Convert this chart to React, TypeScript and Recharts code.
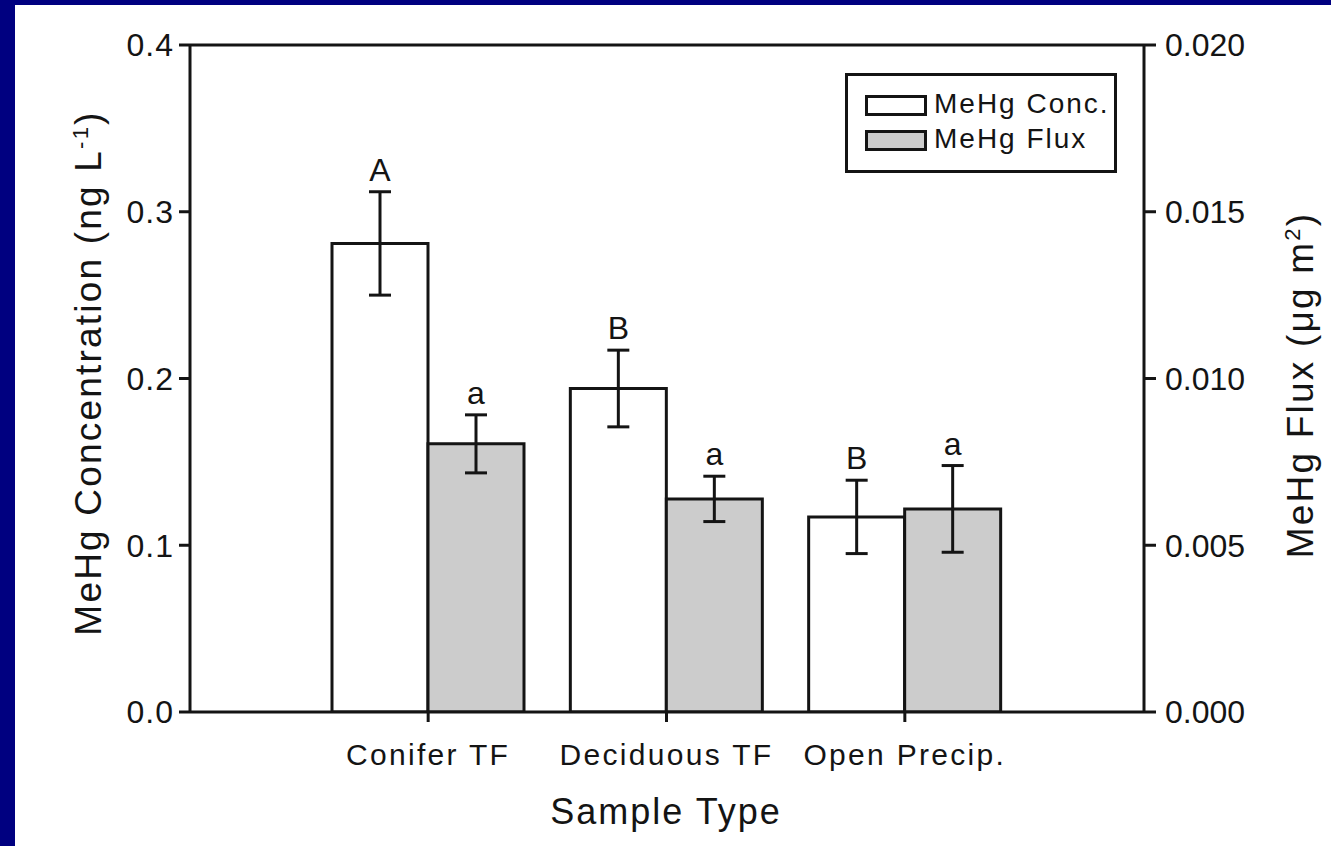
import React from 'react'
import {
  BarChart,
  Bar,
  XAxis,
  YAxis,
  ErrorBar,
  LabelList,
  Legend,
  ReferenceLine,
} from 'recharts'

const sampleTypes = ['Conifer TF', 'Deciduous TF', 'Open Precip.']
const concValues = [0.281, 0.194, 0.117]
const concErrors = [0.031, 0.023, 0.022]
const fluxValues = [0.00804, 0.00639, 0.00609]
const fluxErrors = [0.00087, 0.00068, 0.0013]
const concLetters = ['A', 'B', 'B']
const fluxLetters = ['a', 'a', 'a']
const concTicks = [0, 0.1, 0.2, 0.3, 0.4]
const fluxTicks = [0, 0.005, 0.01, 0.015, 0.02]

const FONT = '"Liberation Sans", Arial, sans-serif'
const INK = '#141414'

const data = sampleTypes.map((name, i) => ({
  name,
  conc: concValues[i],
  concErr: concErrors[i],
  flux: fluxValues[i],
  fluxErr: fluxErrors[i],
}))

// letter above the error bar cap
const letterLabel = (letters: string[], errors: number[]) => (props: any) => {
  const vb = props.viewBox || props
  const x = vb.x
  const w = vb.width
  const h = Math.abs(vb.height)
  const top = vb.height < 0 ? vb.y + vb.height : vb.y
  const idx = props.index
  const v = Number(props.value)
  const errPx = v ? (h * errors[idx]) / v : 0
  return (
    <text
      x={x + w / 2}
      y={top - errPx - 11}
      textAnchor="middle"
      fontSize={32}
      fontFamily={FONT}
      fill={INK}
    >
      {letters[idx]}
    </text>
  )
}

const renderLegend = (props: any) => {
  const items = props.payload || []
  return (
    <svg width={272} height={100}>
      <rect x={1.5} y={1.5} width={269} height={97} fill="#fff" stroke={INK} strokeWidth={3} />
      {items.map((it: any, i: number) => (
        <g key={i}>
          <rect
            x={21.5}
            y={23.5 + i * 35}
            width={59}
            height={18}
            fill={it.payload?.fill || it.color}
            stroke={INK}
            strokeWidth={3}
          />
          <text
            x={89}
            y={40 + i * 35}
            fontSize={28}
            fontFamily={FONT}
            letterSpacing={2}
            fill={INK}
          >
            {it.value}
          </text>
        </g>
      ))}
    </svg>
  )
}

const leftTitle = (props: any) => (
  <text
    transform="translate(101, 373) rotate(-90)"
    textAnchor="middle"
    fontSize={37}
    fontFamily={FONT}
    letterSpacing={2.2}
    fill={INK}
  >
    MeHg Concentration (ng L
    <tspan dy={-13} fontSize={22}>-1</tspan>
    <tspan dy={13}>)</tspan>
  </text>
)

const rightTitle = (props: any) => (
  <text
    transform="translate(1313, 385) rotate(-90)"
    textAnchor="middle"
    fontSize={37}
    fontFamily={FONT}
    letterSpacing={2.2}
    fill={INK}
  >
    MeHg Flux (μg m
    <tspan dy={-13} fontSize={22}>2</tspan>
    <tspan dy={13}>)</tspan>
  </text>
)

export default function App() {
  return (
    <div
      style={{
        position: 'fixed',
        left: 0,
        top: 0,
        width: 1331,
        height: 846,
        background: '#000080',
        overflow: 'hidden',
      }}
    >
      <div style={{ position: 'absolute', left: 15, top: 5, right: 0, bottom: 0, background: '#fff' }} />
      <div style={{ position: 'absolute', left: 0, top: 0 }}>
        <BarChart
          width={1331}
          height={846}
          data={data}
          margin={{ top: 45, right: 77, bottom: 74, left: 0 }}
          barCategoryGap={23}
          barGap={0}
        >
          <XAxis
            dataKey="name"
            padding={{ left: 119, right: 120 }}
            height={60}
            tickSize={10}
            tickMargin={22}
            axisLine={{ stroke: INK, strokeWidth: 3 }}
            tickLine={{ stroke: INK, strokeWidth: 3 }}
            tick={{ fontSize: 30, fill: INK, fontFamily: FONT, letterSpacing: 2.3 }}
            label={(p: any) => (
              <text
                x={666}
                y={824}
                textAnchor="middle"
                fontSize={36}
                fontFamily={FONT}
                letterSpacing={2}
                fill={INK}
              >
                Sample Type
              </text>
            )}
          />
          <YAxis
            yAxisId="conc"
            orientation="left"
            width={190}
            domain={[0, 0.4]}
            ticks={concTicks}
            allowDataOverflow
            tickFormatter={(v: number) => v.toFixed(1)}
            tickSize={11}
            tickMargin={5}
            axisLine={{ stroke: INK, strokeWidth: 3 }}
            tickLine={{ stroke: INK, strokeWidth: 3 }}
            tick={{ fontSize: 32, fill: INK, fontFamily: FONT, letterSpacing: 1 }}
            label={leftTitle}
          />
          <YAxis
            yAxisId="flux"
            orientation="right"
            width={110}
            domain={[0, 0.02]}
            ticks={fluxTicks}
            allowDataOverflow
            tickFormatter={(v: number) => v.toFixed(3)}
            tickSize={12}
            tickMargin={9}
            axisLine={{ stroke: INK, strokeWidth: 3 }}
            tickLine={{ stroke: INK, strokeWidth: 3 }}
            tick={{ fontSize: 32, fill: INK, fontFamily: FONT }}
            label={rightTitle}
          />
          <ReferenceLine yAxisId="conc" y={0.4} stroke={INK} strokeWidth={3} ifOverflow="visible" />
          <Legend
            layout="vertical"
            align="center"
            verticalAlign="middle"
            wrapperStyle={{ left: 845, top: 73, width: 272, height: 100 }}
            content={renderLegend}
          />
          <Bar
            yAxisId="conc"
            dataKey="conc"
            name="MeHg Conc."
            fill="#ffffff"
            stroke={INK}
            strokeWidth={3}
            isAnimationActive={false}
          >
            <ErrorBar dataKey="concErr" width={11} stroke={INK} strokeWidth={3} direction="y" />
            <LabelList dataKey="conc" content={letterLabel(concLetters, concErrors)} />
          </Bar>
          <Bar
            yAxisId="flux"
            dataKey="flux"
            name="MeHg Flux"
            fill="#cccccc"
            stroke={INK}
            strokeWidth={3}
            isAnimationActive={false}
          >
            <ErrorBar dataKey="fluxErr" width={11} stroke={INK} strokeWidth={3} direction="y" />
            <LabelList dataKey="flux" content={letterLabel(fluxLetters, fluxErrors)} />
          </Bar>
        </BarChart>
      </div>
    </div>
  )
}
